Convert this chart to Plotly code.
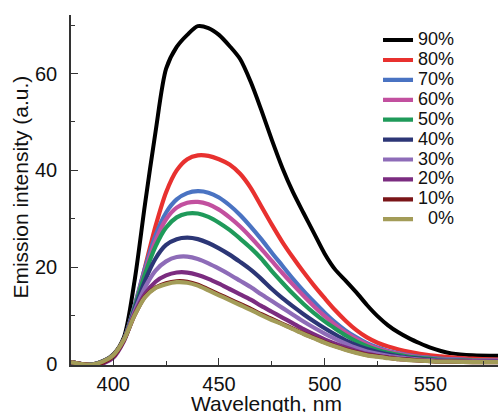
import plotly.graph_objects as go

wavelength = [380, 385, 390, 395, 400, 405, 410, 415, 420, 425, 430, 435, 440, 445, 450,
              455, 460, 465, 470, 475, 480, 485, 490, 495, 500, 505, 510, 515, 520, 525,
              530, 535, 540, 545, 550, 555, 560, 570, 582]

s90 = [0.4, 0.0, -0.1, 0.6, 2.0, 5.5, 17.0, 33.0, 48.0, 61.0, 65.5, 68.0, 69.8, 69.4, 68.0,
       65.7, 63.0, 58.3, 52.5, 46.3, 40.5, 35.5, 31.2, 27.0, 22.8, 19.5, 17.2, 14.8, 12.2, 9.9,
       8.0, 6.5, 5.3, 4.3, 3.4, 2.7, 2.2, 1.8, 1.7]
s80 = [0.4, 0.0, -0.1, 0.5, 1.8, 5.0, 11.5, 20.0, 28.5, 35.5, 40.0, 42.3, 43.1, 43.0, 42.3,
       41.2, 39.3, 36.4, 32.6, 28.8, 25.2, 22.0, 19.0, 16.2, 13.6, 11.1, 8.9, 7.0, 5.5, 4.4,
       3.6, 3.0, 2.5, 2.1, 1.8, 1.6, 1.4, 1.1, 0.9]
s70 = [0.4, 0.0, -0.1, 0.5, 1.8, 5.0, 12.0, 19.8, 26.6, 31.3, 34.0, 35.3, 35.7, 35.4, 34.4,
       32.8, 30.8, 28.4, 25.8, 23.0, 20.3, 17.6, 15.1, 12.8, 10.6, 8.6, 6.9, 5.5, 4.3, 3.4,
       2.7, 2.2, 1.8, 1.5, 1.3, 1.1, 1.0, 0.8, 0.7]
s60 = [0.4, 0.0, -0.1, 0.5, 1.8, 5.0, 11.8, 19.2, 25.5, 29.9, 32.3, 33.3, 33.5, 33.0, 31.9,
       30.3, 28.4, 26.2, 23.8, 21.3, 18.8, 16.4, 14.1, 11.9, 9.9, 8.1, 6.5, 5.2, 4.1, 3.2,
       2.6, 2.1, 1.7, 1.4, 1.2, 1.0, 0.9, 0.8, 0.7]
s50 = [0.4, 0.0, -0.1, 0.5, 1.8, 5.0, 11.6, 18.6, 24.3, 28.2, 30.3, 31.1, 31.1, 30.4, 29.2,
       27.7, 25.9, 24.0, 21.8, 19.2, 16.8, 14.5, 12.4, 10.5, 8.8, 7.3, 5.9, 4.7, 3.7, 2.9,
       2.3, 1.9, 1.5, 1.3, 1.1, 0.9, 0.8, 0.7, 0.6]
s40 = [0.4, 0.0, -0.1, 0.5, 1.8, 5.0, 11.2, 17.2, 21.8, 24.6, 25.8, 26.1, 25.8, 25.0, 23.9,
       22.6, 21.1, 19.5, 17.6, 15.5, 13.6, 11.9, 10.3, 8.8, 7.4, 6.1, 4.9, 3.9, 3.1, 2.5,
       2.0, 1.6, 1.3, 1.1, 0.9, 0.8, 0.7, 0.6, 0.6]
s30 = [0.4, 0.0, -0.2, 0.3, 1.6, 4.9, 10.8, 15.8, 19.3, 21.2, 22.1, 22.2, 21.7, 20.8, 19.7,
       18.5, 17.2, 15.9, 14.4, 13.0, 11.6, 10.2, 8.8, 7.5, 6.3, 5.2, 4.2, 3.3, 2.6, 2.1,
       1.7, 1.4, 1.1, 0.9, 0.8, 0.7, 0.7, 0.6, 0.5]
s20 = [0.4, 0.0, -0.3, 0.1, 1.3, 4.7, 10.3, 14.5, 17.0, 18.3, 18.9, 18.9, 18.4, 17.6, 16.6,
       15.5, 14.4, 13.3, 12.0, 10.8, 9.6, 8.4, 7.2, 6.1, 5.1, 4.2, 3.4, 2.7, 2.1, 1.7,
       1.4, 1.1, 0.9, 0.8, 0.7, 0.6, 0.6, 0.5, 0.5]
s10 = [0.4, 0.0, -0.2, 0.3, 1.6, 4.9, 10.0, 13.9, 15.8, 16.7, 17.1, 17.0, 16.4, 15.4, 14.4,
       13.4, 12.4, 11.4, 10.3, 9.3, 8.3, 7.3, 6.3, 5.4, 4.5, 3.7, 3.0, 2.4, 1.9, 1.6,
       1.3, 1.0, 0.9, 0.7, 0.6, 0.5, 0.5, 0.4, 0.4]
s0 = [0.4, 0.0, -0.1, 0.5, 1.8, 5.0, 10.0, 13.8, 15.7, 16.5, 16.9, 16.8, 16.2, 15.2, 14.2,
      13.2, 12.2, 11.2, 10.1, 9.1, 8.2, 7.2, 6.2, 5.3, 4.4, 3.6, 2.9, 2.3, 1.8, 1.5,
      1.2, 1.0, 0.8, 0.7, 0.6, 0.5, 0.5, 0.4, 0.4]

labels = ["90%", "80%", "70%", "60%", "50%", "40%", "30%", "20%", "10%", "\u20070%"]
series = [s90, s80, s70, s60, s50, s40, s30, s20, s10, s0]
colors = ["#000000", "#e8312f", "#4a73c2", "#c2509f", "#1f9a5a", "#2c3676",
          "#8e6cb8", "#7b2c80", "#7a1518", "#a39c58"]

FONT = "Liberation Sans, Arial, sans-serif"

fig = go.Figure()
for name, ys, col in zip(labels, series, colors):
    fig.add_trace(go.Scatter(
        x=wavelength, y=ys, mode="lines", name='<span style="font-size:18px">' + name + '</span>',
        line=dict(color=col, width=4.2 if col != "#000000" else 4, shape="spline", smoothing=0.8),
    ))

fig.update_layout(
    width=502, height=412,
    margin=dict(l=71, r=4, t=15, b=47),
    paper_bgcolor="white", plot_bgcolor="white",
    font=dict(family=FONT, size=20, color="#111111"),
    showlegend=True,
    legend=dict(x=0.719, y=0.971, xanchor="left", yanchor="top",
                font=dict(family=FONT, size=13, color="#111111"),
                bgcolor="rgba(0,0,0,0)", borderwidth=0, itemwidth=30),
    xaxis=dict(range=[380, 582], tick0=400, dtick=50, ticks="inside", ticklen=7, tickwidth=1.3,
               tickcolor="#333333", showline=True, linecolor="#333333", linewidth=1.5,
               showgrid=False, zeroline=False, mirror=False,
               minor=dict(dtick=25, ticks="inside", ticklen=4, tickwidth=1.3, tickcolor="#333333"),
               tickfont=dict(size=20)),
    yaxis=dict(range=[-0.2, 72.1], tick0=0, dtick=20, ticks="inside", ticklen=7, tickwidth=1.3,
               tickcolor="#333333", showline=True, linecolor="#333333", linewidth=1.5,
               showgrid=False, zeroline=False, mirror=False, ticklabelstandoff=8,
               minor=dict(dtick=10, ticks="inside", ticklen=4, tickwidth=1.3, tickcolor="#333333"),
               tickfont=dict(size=20)),
    annotations=[
        dict(text="Wavelength, nm", xref="paper", yref="paper", x=0.459, y=-0.11,
             xanchor="center", yanchor="middle", showarrow=False, font=dict(size=21)),
        dict(text="Emission intensity (a.u.)", xref="paper", yref="paper", x=-0.117, y=0.507,
             xanchor="center", yanchor="middle", textangle=-90, showarrow=False, font=dict(size=21)),
    ],
)

fig.write_html("out.html")
